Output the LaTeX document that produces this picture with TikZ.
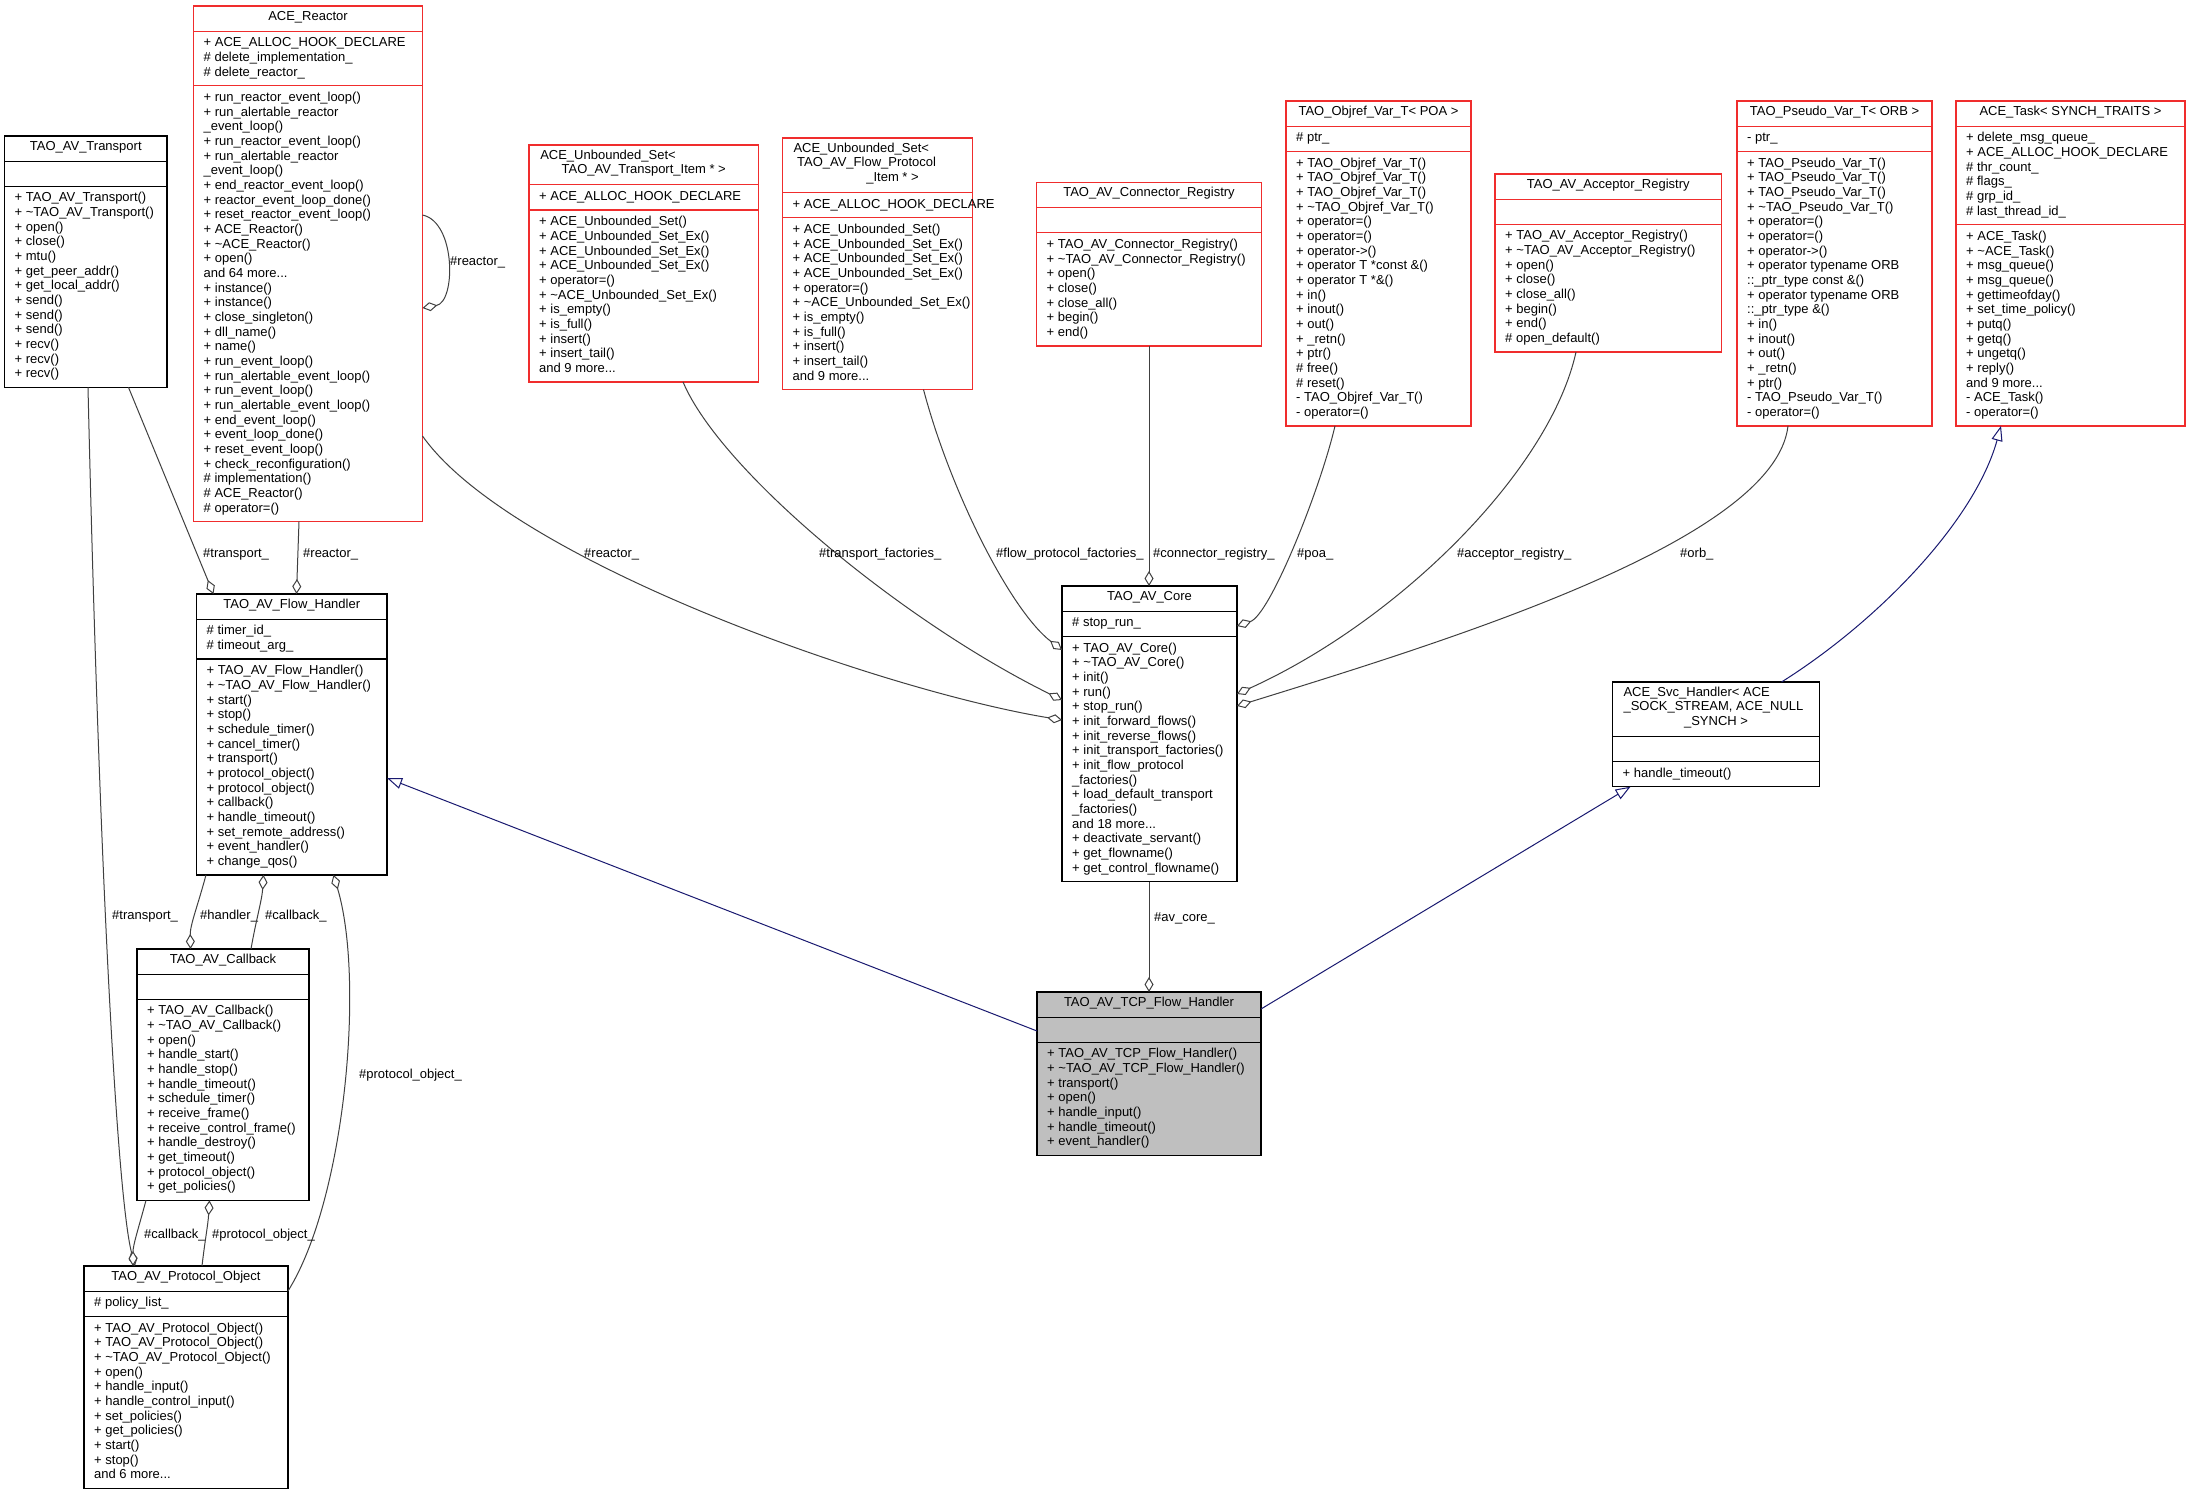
\documentclass[tikz,border=0pt]{standalone}
\usepackage{fontspec}
\setmainfont{Liberation Sans}
\usetikzlibrary{arrows.meta}
\definecolor{redb}{RGB}{240,45,45}
\definecolor{edgegray}{RGB}{64,64,64}
\definecolor{navyb}{RGB}{25,25,112}
\definecolor{grayfill}{RGB}{191,191,191}
\newcommand\tld{\textasciitilde}
\newcommand\tl[1]{\begin{tabular}{@{}l@{}}#1\end{tabular}}
\def\LL{14.67}\def\PP{10.5}\def\EE{25}
\newcommand\cls[9]{%
 \pgfmathsetmacro\cHt{#7*\LL+\PP}%
 \ifnum#8=0 \edef\cHa{\EE}\else\pgfmathsetmacro\cHa{#8*\LL+\PP}\fi
 \pgfmathsetmacro\cHm{#9*\LL+\PP}%
 \pgfmathsetmacro\cW{#5-#4}%
 \pgfmathsetmacro\cH{\cHt+\cHa+\cHm}%
 \node[draw=#2, fill=#3, boxline, inner sep=0pt, outer sep=0pt, minimum width=\cW pt, minimum height=\cH pt, anchor=north west] (#1) at (#4,#6) {};
 \draw[draw=#2, boxline] (#4,{#6+\cHt}) -- (#5,{#6+\cHt}) (#4,{#6+\cHt+\cHa}) -- (#5,{#6+\cHt+\cHa});
 \node[inner sep=0pt, yshift=1.2pt] (#1-t) at ({(#4+#5)/2},{#6+\cHt/2}) {\cT};
 \ifnum#8>0 \node[inner sep=0pt, anchor=north west] (#1-a) at ({#4+10},{#6+\cHt+\PP/2}) {\tl{\cA}};\fi
 \node[inner sep=0pt, anchor=north west] (#1-m) at ({#4+10},{#6+\cHt+\cHa+\PP/2}) {\tl{\cM}};
}
\tikzset{
 boxline/.style={line width=1.3pt},
 agg/.style={draw=edgegray, line width=1pt, -{Diamond[length=15pt,width=9pt,fill=white]}},
 inh/.style={draw=navyb, line width=1pt, -{Triangle[length=15pt,width=11pt,fill=white]}},
 lbl/.style={inner sep=0pt, anchor=west}
}
\catcode`\_=12
\begin{document}
\begin{tikzpicture}[x=1pt,y=-1pt,font=\fontsize{13}{14.67}\selectfont]
\fill[white] (0,0) rectangle (2191,1496);
\useasboundingbox (0,0) rectangle (2191,1496);

% TAO_AV_Transport
\def\cT{\tl{TAO_AV_Transport}}\def\cA{}
\def\cM{+ TAO_AV_Transport()\\+ \tld TAO_AV_Transport()\\+ open()\\+ close()\\+ mtu()\\+ get_peer_addr()\\+ get_local_addr()\\+ send()\\+ send()\\+ send()\\+ recv()\\+ recv()\\+ recv()}
\cls{trans}{black}{white}{4.5}{167}{136}{1}{0}{13}

% ACE_Reactor
\def\cT{\tl{ACE_Reactor}}
\def\cA{+ ACE_ALLOC_HOOK_DECLARE\\\# delete_implementation_\\\# delete_reactor_}
\def\cM{+ run_reactor_event_loop()\\+ run_alertable_reactor\\_event_loop()\\+ run_reactor_event_loop()\\+ run_alertable_reactor\\_event_loop()\\+ end_reactor_event_loop()\\+ reactor_event_loop_done()\\+ reset_reactor_event_loop()\\+ ACE_Reactor()\\+ \tld ACE_Reactor()\\+ open()\\and 64 more...\\+ instance()\\+ instance()\\+ close_singleton()\\+ dll_name()\\+ name()\\+ run_event_loop()\\+ run_alertable_event_loop()\\+ run_event_loop()\\+ run_alertable_event_loop()\\+ end_event_loop()\\+ event_loop_done()\\+ reset_event_loop()\\+ check_reconfiguration()\\\# implementation()\\\# ACE_Reactor()\\\# operator=()}
\cls{reactor}{redb}{white}{193.5}{422.5}{6}{1}{3}{29}

% ACE_Unbounded_Set< TAO_AV_Transport_Item * >
\def\cT{\begin{tabular}{@{}p{207pt}@{}}ACE_Unbounded_Set<\\\multicolumn{1}{@{}c@{}}{TAO_AV_Transport_Item * >}\end{tabular}}
\def\cA{+ ACE_ALLOC_HOOK_DECLARE}
\def\cM{+ ACE_Unbounded_Set()\\+ ACE_Unbounded_Set_Ex()\\+ ACE_Unbounded_Set_Ex()\\+ ACE_Unbounded_Set_Ex()\\+ operator=()\\+ \tld ACE_Unbounded_Set_Ex()\\+ is_empty()\\+ is_full()\\+ insert()\\+ insert_tail()\\and 9 more...}
\cls{unbt}{redb}{white}{529}{758.5}{145}{2}{1}{11}

% ACE_Unbounded_Set< TAO_AV_Flow_Protocol_Item * >
\def\cT{\begin{tabular}{@{}p{168pt}@{}}ACE_Unbounded_Set<\\\hspace*{3.6pt}TAO_AV_Flow_Protocol\\\multicolumn{1}{@{}c@{}}{\hspace*{30pt}_Item * >}\end{tabular}}
\cls{unbf}{redb}{white}{782.5}{972.5}{138}{3}{1}{11}

% TAO_AV_Connector_Registry
\def\cT{\tl{TAO_AV_Connector_Registry}}\def\cA{}
\def\cM{+ TAO_AV_Connector_Registry()\\+ \tld TAO_AV_Connector_Registry()\\+ open()\\+ close()\\+ close_all()\\+ begin()\\+ end()}
\cls{conn}{redb}{white}{1036.5}{1261.5}{182.5}{1}{0}{7}

% TAO_Objref_Var_T< POA >
\def\cT{\tl{TAO_Objref_Var_T< POA >}}
\def\cA{\# ptr_}
\def\cM{+ TAO_Objref_Var_T()\\+ TAO_Objref_Var_T()\\+ TAO_Objref_Var_T()\\+ \tld TAO_Objref_Var_T()\\+ operator=()\\+ operator=()\\+ operator->()\\+ operator T *const \&()\\+ operator T *\&()\\+ in()\\+ inout()\\+ out()\\+ _retn()\\+ ptr()\\\# free()\\\# reset()\\- TAO_Objref_Var_T()\\- operator=()}
\cls{objref}{redb}{white}{1286}{1471}{101}{1}{1}{18}

% TAO_AV_Acceptor_Registry
\def\cT{\tl{TAO_AV_Acceptor_Registry}}\def\cA{}
\def\cM{+ TAO_AV_Acceptor_Registry()\\+ \tld TAO_AV_Acceptor_Registry()\\+ open()\\+ close()\\+ close_all()\\+ begin()\\+ end()\\\# open_default()}
\cls{acc}{redb}{white}{1495}{1721.5}{174}{1}{0}{8}

% TAO_Pseudo_Var_T< ORB >
\def\cT{\tl{TAO_Pseudo_Var_T< ORB >}}
\def\cA{- ptr_}
\def\cM{+ TAO_Pseudo_Var_T()\\+ TAO_Pseudo_Var_T()\\+ TAO_Pseudo_Var_T()\\+ \tld TAO_Pseudo_Var_T()\\+ operator=()\\+ operator=()\\+ operator->()\\+ operator typename ORB\\::_ptr_type const \&()\\+ operator typename ORB\\::_ptr_type \&()\\+ in()\\+ inout()\\+ out()\\+ _retn()\\+ ptr()\\- TAO_Pseudo_Var_T()\\- operator=()}
\cls{pseudo}{redb}{white}{1737}{1932}{101}{1}{1}{18}

% ACE_Task< SYNCH_TRAITS >
\def\cT{\tl{ACE_Task< SYNCH_TRAITS >}}
\def\cA{+ delete_msg_queue_\\+ ACE_ALLOC_HOOK_DECLARE\\\# thr_count_\\\# flags_\\\# grp_id_\\\# last_thread_id_}
\def\cM{+ ACE_Task()\\+ \tld ACE_Task()\\+ msg_queue()\\+ msg_queue()\\+ gettimeofday()\\+ set_time_policy()\\+ putq()\\+ getq()\\+ ungetq()\\+ reply()\\and 9 more...\\- ACE_Task()\\- operator=()}
\cls{task}{redb}{white}{1956}{2185}{101}{1}{6}{13}

% TAO_AV_Flow_Handler
\def\cT{\tl{TAO_AV_Flow_Handler}}
\def\cA{\# timer_id_\\\# timeout_arg_}
\def\cM{+ TAO_AV_Flow_Handler()\\+ \tld TAO_AV_Flow_Handler()\\+ start()\\+ stop()\\+ schedule_timer()\\+ cancel_timer()\\+ transport()\\+ protocol_object()\\+ protocol_object()\\+ callback()\\+ handle_timeout()\\+ set_remote_address()\\+ event_handler()\\+ change_qos()}
\cls{fh}{black}{white}{196.5}{387}{594}{1}{2}{14}

% TAO_AV_Core
\def\cT{\tl{TAO_AV_Core}}
\def\cA{\# stop_run_}
\def\cM{+ TAO_AV_Core()\\+ \tld TAO_AV_Core()\\+ init()\\+ run()\\+ stop_run()\\+ init_forward_flows()\\+ init_reverse_flows()\\+ init_transport_factories()\\+ init_flow_protocol\\_factories()\\+ load_default_transport\\_factories()\\and 18 more...\\+ deactivate_servant()\\+ get_flowname()\\+ get_control_flowname()}
\cls{core}{black}{white}{1062}{1237}{586}{1}{1}{16}

% ACE_Svc_Handler
\def\cT{\begin{tabular}{@{}p{185pt}@{}}ACE_Svc_Handler< ACE\\_SOCK_STREAM, ACE_NULL\\\multicolumn{1}{@{}c@{}}{_SYNCH >}\end{tabular}}
\def\cA{}
\def\cM{+ handle_timeout()}
\cls{svc}{black}{white}{1612.5}{1819.5}{682}{3}{0}{1}

% TAO_AV_TCP_Flow_Handler
\def\cT{\tl{TAO_AV_TCP_Flow_Handler}}\def\cA{}
\def\cM{+ TAO_AV_TCP_Flow_Handler()\\+ \tld TAO_AV_TCP_Flow_Handler()\\+ transport()\\+ open()\\+ handle_input()\\+ handle_timeout()\\+ event_handler()}
\cls{tcp}{black}{grayfill}{1037}{1261}{992}{1}{0}{7}

% TAO_AV_Callback
\def\cT{\tl{TAO_AV_Callback}}\def\cA{}
\def\cM{+ TAO_AV_Callback()\\+ \tld TAO_AV_Callback()\\+ open()\\+ handle_start()\\+ handle_stop()\\+ handle_timeout()\\+ schedule_timer()\\+ receive_frame()\\+ receive_control_frame()\\+ handle_destroy()\\+ get_timeout()\\+ protocol_object()\\+ get_policies()}
\cls{cb}{black}{white}{137}{309}{949}{1}{0}{13}

% TAO_AV_Protocol_Object
\def\cT{\tl{TAO_AV_Protocol_Object}}
\def\cA{\# policy_list_}
\def\cM{+ TAO_AV_Protocol_Object()\\+ TAO_AV_Protocol_Object()\\+ \tld TAO_AV_Protocol_Object()\\+ open()\\+ handle_input()\\+ handle_control_input()\\+ set_policies()\\+ get_policies()\\+ start()\\+ stop()\\and 6 more...}
\cls{po}{black}{white}{84}{288}{1266}{1}{1}{11}

% ---- collaboration edges ----
\draw[agg] (128.5,0|-trans.south) -- (213.5,0|-fh.north);
\node[lbl] (l1) at (203,554) {\#transport_};
\draw[agg] (299,0|-reactor.south) -- (296.5,0|-fh.north);
\node[lbl] (l2) at (303,554) {\#reactor_};
\draw[agg] (reactor.east|-0,215) .. controls (456,222) and (456,302) .. (reactor.east|-0,308);
\node[lbl] (l3) at (450,262) {\#reactor_};
\draw[agg] (reactor.east|-0,436) .. controls (510,560) and (880,690) .. (core.west|-0,720);
\node[lbl] (l4) at (584,554) {\#reactor_};
\draw[agg] (683,0|-unbt.south) .. controls (720,470) and (900,620) .. (core.west|-0,700);
\node[lbl] (l5) at (819,554) {\#transport_factories_};
\draw[agg] (923.5,0|-unbf.south) .. controls (950,490) and (1010,610) .. (core.west|-0,650);
\node[lbl] (l6) at (996,554) {\#flow_protocol_factories_};
\draw[agg] (1149,0|-conn.south) -- (1149,0|-core.north);
\node[lbl] (l7) at (1153,554) {\#connector_registry_};
\draw[agg] (1335,0|-objref.south) .. controls (1320,490) and (1270,615) .. (core.east|-0,626);
\node[lbl] (l8) at (1297,554) {\#poa_};
\draw[agg] (1576,0|-acc.south) .. controls (1550,470) and (1400,620) .. (core.east|-0,694);
\node[lbl] (l9) at (1457,554) {\#acceptor_registry_};
\draw[agg] (1788,0|-pseudo.south) .. controls (1775,540) and (1450,640) .. (core.east|-0,706);
\node[lbl] (l10) at (1680,554) {\#orb_};
\draw[agg] (1149,0|-core.south) -- (1149,0|-tcp.north);
\node[lbl] (l11) at (1154,918) {\#av_core_};
\draw[agg] (206,0|-fh.south) .. controls (198,905) and (190,925) .. (190.5,0|-cb.north);
\node[lbl] (l12) at (200,916) {\#handler_};
\draw[agg] (251,0|-cb.north) .. controls (256,920) and (262,900) .. (263.5,0|-fh.south);
\node[lbl] (l13) at (265,916) {\#callback_};
\draw[agg] (po.east|-0,1291) .. controls (345,1200) and (365,980) .. (333.5,0|-fh.south);
\node[lbl] (l14) at (359,1075) {\#protocol_object_};
\draw[agg] (88,0|-trans.south) .. controls (100,900) and (118,1200) .. (135,0|-po.north);
\node[lbl] (l15) at (112,916) {\#transport_};
\draw[agg] (146,0|-cb.south) .. controls (138,1230) and (133,1245) .. (133,0|-po.north);
\node[lbl] (l16) at (144,1235) {\#callback_};
\draw[agg] (202,0|-po.north) .. controls (205,1240) and (208,1225) .. (209.5,0|-cb.south);
\node[lbl] (l17) at (212,1235) {\#protocol_object_};

% ---- inheritance edges ----
\draw[inh] (1781.5,0|-svc.north) .. controls (1880,620) and (1975,520) .. (2001,0|-task.south);
\draw[inh] (tcp.west|-0,1031) -- (fh.east|-0,778);
\draw[inh] (tcp.east|-0,1009) -- (1630.5,0|-svc.south);
\end{tikzpicture}
\end{document}
